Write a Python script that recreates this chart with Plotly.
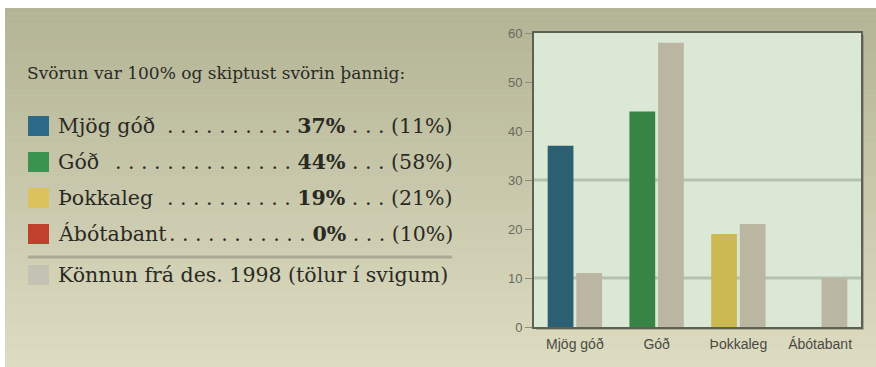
import plotly.graph_objects as go

# ---------------- data ----------------
categories = ["Mjög góð", "Góð", "Þokkaleg", "Ábótabant"]
current_pct = [37, 44, 19, 0]
previous_pct = [11, 58, 21, 10]
y_ticks = [0, 10, 20, 30, 40, 50, 60]
grid_values = [10, 30]
title_text = "Svörun var 100% og skiptust svörin þannig:"
previous_label = "Könnun frá des. 1998 (tölur í svigum)"

# ---------------- style ----------------
bar_colors = ["#2c5f71", "#388447", "#cdb953", "#c0402c"]
swatch_colors = ["#2d6a88", "#3a9450", "#dcc25b", "#c0402c"]
prev_bar_color = "#bab6a2"
prev_swatch_color = "#c4c2b3"
leader_dots = [10, 14, 10, 11]

W, H = 876, 367
L, R, T, B = 534, 861, 33, 327


def px(x):
    return (x - L) / (R - L)


def py(y):
    return (B - y) / (B - T)


def lerp_color(c0, c1, t):
    a = [int(c0[i:i + 2], 16) for i in (1, 3, 5)]
    b = [int(c1[i:i + 2], 16) for i in (1, 3, 5)]
    return "#" + "".join(f"{round(a[k] + (b[k] - a[k]) * t):02x}" for k in range(3))


fig = go.Figure()
fig.add_trace(go.Bar(x=categories, y=current_pct, marker=dict(color=bar_colors, line=dict(width=0)),
                     name="current", hoverinfo="x+y"))
fig.add_trace(go.Bar(x=categories, y=previous_pct, marker=dict(color=prev_bar_color, line=dict(width=0)),
                     name="1998", hoverinfo="x+y"))

shapes = []
# gradient panel background
top_c, bot_c = "#b3b395", "#dddcc1"
n = 70
y_top, y_bot = 8, 367
for i in range(n):
    ya = y_top + (y_bot - y_top) * i / n
    yb = y_top + (y_bot - y_top) * (i + 1) / n + 0.6
    shapes.append(dict(type="rect", xref="paper", yref="paper", x0=px(5), x1=px(W + 2),
                       y0=py(yb), y1=py(ya), fillcolor=lerp_color(top_c, bot_c, (i + 0.5) / n),
                       line=dict(width=0), layer="below"))
# plot shadow and background
shapes.append(dict(type="rect", xref="paper", yref="paper", x0=px(L + 2), x1=px(R + 3),
                   y0=py(B + 3), y1=py(T + 2), fillcolor="rgba(90,90,70,0.35)",
                   line=dict(width=0), layer="below"))
shapes.append(dict(type="rect", xref="paper", yref="paper", x0=0, x1=1, y0=0, y1=1,
                   fillcolor="#dbe8d6", line=dict(width=0), layer="below"))
# selected grid lines
for g in grid_values:
    shapes.append(dict(type="line", xref="paper", yref="y", x0=0, x1=1, y0=g, y1=g,
                       line=dict(color="#b6c1b0", width=3), layer="below"))

# legend swatches
row_y = [126, 162, 198, 234]
for cy, c in zip(row_y, swatch_colors):
    shapes.append(dict(type="rect", xref="paper", yref="paper", x0=px(28), x1=px(49),
                       y0=py(cy + 10), y1=py(cy - 10), fillcolor=c, line=dict(width=0)))
shapes.append(dict(type="line", xref="paper", yref="paper", x0=px(28), x1=px(452),
                   y0=py(257), y1=py(257), line=dict(color="#a8a893", width=3)))
shapes.append(dict(type="rect", xref="paper", yref="paper", x0=px(28), x1=px(49),
                   y0=py(285), y1=py(265), fillcolor=prev_swatch_color, line=dict(width=0)))

serif = "DejaVu Serif, serif"
txt_col = "#2a2a24"
fs = 20.5
ann = []
ann.append(dict(xref="paper", yref="paper", x=px(25), y=py(73), xanchor="left", yanchor="middle",
                text=title_text, showarrow=False, font=dict(family=serif, size=17, color=txt_col)))
for cy, cat, cur, prev, nd in zip(row_y, categories, current_pct, previous_pct, leader_dots):
    ann.append(dict(xref="paper", yref="paper", x=px(56), y=py(cy), xanchor="left", yanchor="middle",
                    text=cat, showarrow=False, font=dict(family=serif, size=fs, color=txt_col)))
    right = " ".join(["."] * nd) + f" <b>{cur}%</b> . . . ({prev}%)"
    ann.append(dict(xref="paper", yref="paper", x=px(455), y=py(cy), xanchor="right", yanchor="middle",
                    text=right, showarrow=False, font=dict(family=serif, size=fs, color=txt_col)))
ann.append(dict(xref="paper", yref="paper", x=px(56), y=py(275), xanchor="left", yanchor="middle",
                text=previous_label, showarrow=False, font=dict(family=serif, size=fs, color=txt_col)))

fig.update_layout(
    width=W, height=H, autosize=False,
    margin=dict(l=L, r=W - R, t=T, b=H - B, pad=0, autoexpand=False),
    paper_bgcolor="white", plot_bgcolor="rgba(0,0,0,0)",
    barmode="group", bargap=0.3, bargroupgap=0.1,
    showlegend=False,
    shapes=shapes, annotations=ann,
    xaxis=dict(showgrid=False, showline=True, mirror=True, linecolor="#5d6152", linewidth=2,
               ticks="", ticklabelstandoff=3, automargin=False,
               tickfont=dict(family="Liberation Sans, Arial, sans-serif", size=14, color="#4a4a44"),
               fixedrange=True),
    yaxis=dict(range=[0, 60], tickvals=y_ticks, showgrid=False, zeroline=False, showline=True,
               mirror=True, linecolor="#5d6152", linewidth=2, ticks="outside", ticklen=7,
               tickcolor="#8a8c7c", tickwidth=1, automargin=False,
               tickfont=dict(family="Liberation Sans, Arial, sans-serif", size=13, color="#6a6a60"),
               fixedrange=True),
)

fig.write_html("out.html")
